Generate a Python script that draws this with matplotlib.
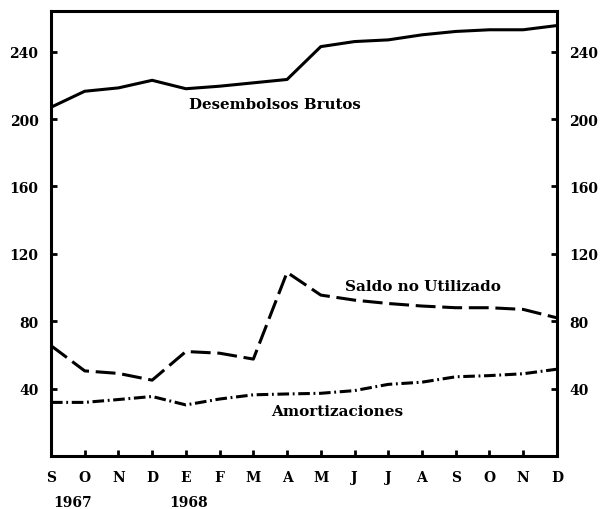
import matplotlib
matplotlib.use('Agg')
import matplotlib.pyplot as plt

# Months from September 1967 to December 1968
months = ['S', 'O', 'N', 'D', 'E', 'F', 'M', 'A', 'M', 'J', 'J', 'A', 'S', 'O', 'N', 'D']
years = ['1967', '1968']

desembolsos = [207, 216.5, 218.5, 223, 218, 219.5, 221.5, 223.5, 243, 246, 247, 250, 252, 253, 253, 255.5]
saldo = [65.5, 50.5, 49, 45, 62, 61, 57.5, 109, 95.5, 92.5, 90.5, 89, 88, 88, 87, 82]
amortizaciones = [31.8, 31.8, 33.5, 35.3, 30.3, 33.8, 36.3, 36.8, 37.2, 38.8, 42.5, 43.8, 47, 47.7, 48.8, 51.5]

yticks = [40, 80, 120, 160, 200, 240]

plt.rcParams['font.family'] = 'DejaVu Serif'
plt.rcParams['font.weight'] = 'bold'

fig = plt.figure(figsize=(6.04, 5.10), dpi=100)
ax = fig.add_axes([0.0844, 0.104, 0.8376, 0.872])

x = list(range(len(months)))
ax.plot(x, desembolsos, color='black', lw=2.2, solid_joinstyle='round')
ax.plot(x, saldo, color='black', lw=2.2, dashes=(6.5, 2.2))
ax.plot(x, amortizaciones, color='black', lw=2.2, dashes=(3.8, 1.2, 0.6, 1.2))

ax.set_xlim(0, len(months) - 1)
ax.set_ylim(0, 264)

for s in ax.spines.values():
    s.set_linewidth(2.2)

ax.set_xticks(x[1:-1])
ax.set_xticklabels([])
ax.set_yticks(yticks)
ax.set_yticklabels([str(v) for v in yticks], fontsize=10, fontweight='bold')
ax.tick_params(axis='both', direction='in', length=4, width=2)
ax.tick_params(axis='y', left=True, right=True, labelleft=True, labelright=True, pad=9)

# month labels below the axis
for i, m in enumerate(months):
    ax.text(i, -0.047, m, transform=ax.get_xaxis_transform(), ha='center', va='center',
            fontsize=10, fontweight='bold')
ax.text(0.65, -0.104, years[0], transform=ax.get_xaxis_transform(), ha='center', va='center',
        fontsize=10, fontweight='bold')
ax.text(4.07, -0.104, years[1], transform=ax.get_xaxis_transform(), ha='center', va='center',
        fontsize=10, fontweight='bold')

ax.text(6.64, 209, 'Desembolsos Brutos', ha='center', va='center', fontsize=10.8, fontweight='bold')
ax.text(11.03, 100.8, 'Saldo no Utilizado', ha='center', va='center', fontsize=11, fontweight='bold')
ax.text(8.48, 26.7, 'Amortizaciones', ha='center', va='center', fontsize=11, fontweight='bold')

fig.savefig('out.png', dpi=100)
